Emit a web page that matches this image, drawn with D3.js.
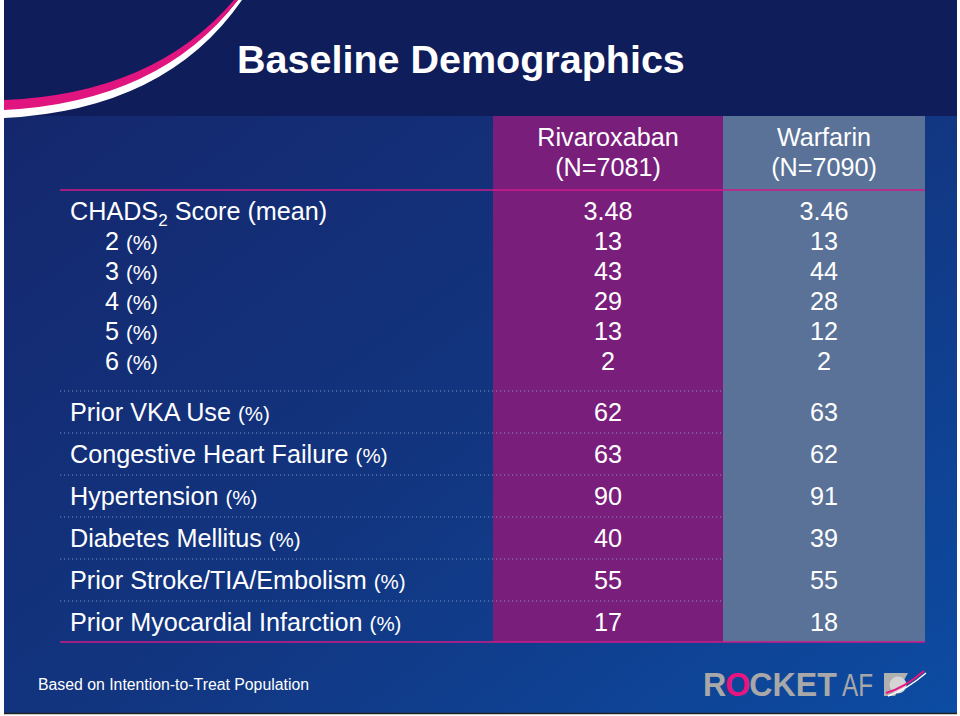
<!DOCTYPE html>
<html>
<head>
<meta charset="utf-8">
<script src="https://cdn.jsdelivr.net/npm/d3@7"></script>
<style>
html,body{margin:0;padding:0;background:#fff;}
svg{display:block;}
text{font-family:"Liberation Sans",Arial,sans-serif;fill:#fff;}
</style>
</head>
<body>
<svg id="chart" width="960" height="716"></svg>
<script>
// ---- data ----
const title = "Baseline Demographics";
const groups = ["Rivaroxaban", "Warfarin"];
const groupN = ["(N=7081)", "(N=7090)"];
const chadsLabels = ["CHADS2 Score (mean)", "2", "3", "4", "5", "6"];
const chadsRivaroxaban = ["3.48", "13", "43", "29", "13", "2"];
const chadsWarfarin = ["3.46", "13", "44", "28", "12", "2"];
const otherLabels = ["Prior VKA Use", "Congestive Heart Failure", "Hypertension",
  "Diabetes Mellitus", "Prior Stroke/TIA/Embolism", "Prior Myocardial Infarction"];
const otherRivaroxaban = [62, 63, 90, 40, 55, 17];
const otherWarfarin = [63, 62, 91, 39, 55, 18];
const footnote = "Based on Intention-to-Treat Population";
const logoParts = ["R", "O", "CKET"];

// ---- layout ----
const svg = d3.select("#chart");
const W = 960, H = 716;
const FS = 25.2;
const defs = svg.append("defs");
const g1 = defs.append("linearGradient").attr("id", "bg").attr("x1", "0").attr("y1", "0").attr("x2", "1").attr("y2", "1");
g1.append("stop").attr("offset", "0").attr("stop-color", "#15256a");
g1.append("stop").attr("offset", "0.55").attr("stop-color", "#123580");
g1.append("stop").attr("offset", "1").attr("stop-color", "#0c4ca3");

svg.append("rect").attr("width", W).attr("height", H).attr("fill", "#ffffff");
svg.append("rect").attr("x", 4).attr("y", 0).attr("width", 953).attr("height", 713).attr("fill", "url(#bg)");
svg.append("rect").attr("x", 4).attr("y", 0).attr("width", 953).attr("height", 116).attr("fill", "#0f1d5b");
svg.append("line").attr("x1", 4).attr("x2", 957).attr("y1", 713.5).attr("y2", 713.5).attr("stroke", "#222").attr("stroke-width", 1.5);

// swoosh
svg.append("path")
  .attr("d", "M4,108 Q160,100 238,0 L242,0 Q166,110 4,118 Z")
  .attr("fill", "#ffffff");
svg.append("path")
  .attr("d", "M4,100 Q154,94 234,0 L238,0 Q160,102 4,110 Z")
  .attr("fill", "#e0157f");

svg.append("text").attr("x", 237).attr("y", 73)
  .attr("font-size", 39.5).attr("font-weight", "bold").text(title);

// columns
const colEdges = [493, 723, 925];
const colFill = ["#7a1e7c", "#5a7298"];
const colX = d3.scaleOrdinal().domain(groups).range([(colEdges[0] + colEdges[1]) / 2, (colEdges[1] + colEdges[2]) / 2]);
const topY = 116, botY = 642;
groups.forEach((gname, i) => {
  svg.append("rect").attr("x", colEdges[i]).attr("y", topY)
    .attr("width", colEdges[i + 1] - colEdges[i]).attr("height", botY - topY)
    .attr("fill", colFill[i]);
});

const yChads = d3.scalePoint().domain(chadsLabels).range([211, 361]);
const yOther = d3.scalePoint().domain(otherLabels).range([412, 622]);
const step = yOther.step();

// dotted separators
const sepYs = [yOther(otherLabels[0]) - step / 2].concat(otherLabels.map(l => yOther(l) + step / 2).slice(0, -1));
svg.selectAll("line.sep").data(sepYs).enter().append("line")
  .attr("class", "sep").attr("x1", 60).attr("x2", colEdges[1])
  .attr("y1", d => d).attr("y2", d => d)
  .attr("stroke", "#8a9fd0").attr("stroke-width", 1).attr("stroke-dasharray", "1.2,2.8").attr("opacity", 0.85);

// pink rules
[190, botY].forEach(y => svg.append("line").attr("x1", 60).attr("x2", colEdges[2])
  .attr("y1", y).attr("y2", y).attr("stroke", "#d01a88").attr("stroke-width", 1.6));

// headers
groups.forEach((gname, i) => {
  svg.append("text").attr("x", colX(gname)).attr("y", 146).attr("text-anchor", "middle")
    .attr("font-size", FS).text(gname);
  svg.append("text").attr("x", colX(gname)).attr("y", 176).attr("text-anchor", "middle")
    .attr("font-size", FS).text(groupN[i]);
});

// CHADS rows labels
chadsLabels.forEach((lab, i) => {
  const t = svg.append("text").attr("y", yChads(lab)).attr("dy", "0.35em").attr("font-size", FS);
  if (i === 0) {
    t.attr("x", 70);
    t.append("tspan").text("CHADS");
    t.append("tspan").attr("font-size", 17).attr("dy", 6).text("2");
    t.append("tspan").attr("dy", -6).text(" Score (mean)");
  } else {
    t.attr("x", 105);
    t.append("tspan").text(lab + " ");
    t.append("tspan").attr("font-size", 20.5).text("(%)");
  }
});
otherLabels.forEach(lab => {
  const t = svg.append("text").attr("x", 70).attr("y", yOther(lab)).attr("dy", "0.35em").attr("font-size", FS);
  t.append("tspan").text(lab + " ");
  t.append("tspan").attr("font-size", 20.5).text("(%)");
});

// values
const valueSets = [[chadsRivaroxaban, otherRivaroxaban], [chadsWarfarin, otherWarfarin]];
groups.forEach((gname, gi) => {
  svg.append("g").selectAll("text").data(valueSets[gi][0]).enter().append("text")
    .attr("x", colX(gname)).attr("y", (d, i) => yChads(chadsLabels[i])).attr("dy", "0.35em")
    .attr("text-anchor", "middle").attr("font-size", FS).text(d => d);
  svg.append("g").selectAll("text").data(valueSets[gi][1]).enter().append("text")
    .attr("x", colX(gname)).attr("y", (d, i) => yOther(otherLabels[i])).attr("dy", "0.35em")
    .attr("text-anchor", "middle").attr("font-size", FS).text(d => d);
});

// footnote
svg.append("text").attr("x", 38).attr("y", 690).attr("font-size", 16)
  .attr("textLength", 271).attr("lengthAdjust", "spacingAndGlyphs").text(footnote);

// logo
const logo = svg.append("g").attr("transform", "translate(703,696)");
const rocket = logo.append("g");
let cx = 0;
logoParts.forEach((p, i) => {
  const t = rocket.append("text").attr("x", cx).attr("font-size", 34).attr("font-weight", "bold")
    .style("fill", i === 1 ? "#e8157e" : "#a8a8a8").text(p);
  cx += t.node().getComputedTextLength() - 1;
});
rocket.attr("transform", `scale(${133 / cx},1)`);
logo.append("text").attr("x", 139).attr("font-size", 31).style("fill", "#a8a8a8")
  .attr("textLength", 31).attr("lengthAdjust", "spacingAndGlyphs").text("AF");
// planet icon
const icon = logo.append("g").attr("transform", "translate(181,0)");
icon.append("path").attr("d", "M0,-23 L24,-23 L11,0 L0,0 Z").attr("fill", "#b0b0b0");
icon.append("circle").attr("cx", 14).attr("cy", -11).attr("r", 8.5).attr("fill", "#d4d4d4");
icon.append("path").attr("d", "M2,-3 Q20,-8 40,-25").attr("fill", "none").attr("stroke", "#e8157e").attr("stroke-width", 2);
icon.append("path").attr("d", "M4,0 Q22,-6 42,-23").attr("fill", "none").attr("stroke", "#ffffff").attr("stroke-width", 1.5);
</script>
</body>
</html>
